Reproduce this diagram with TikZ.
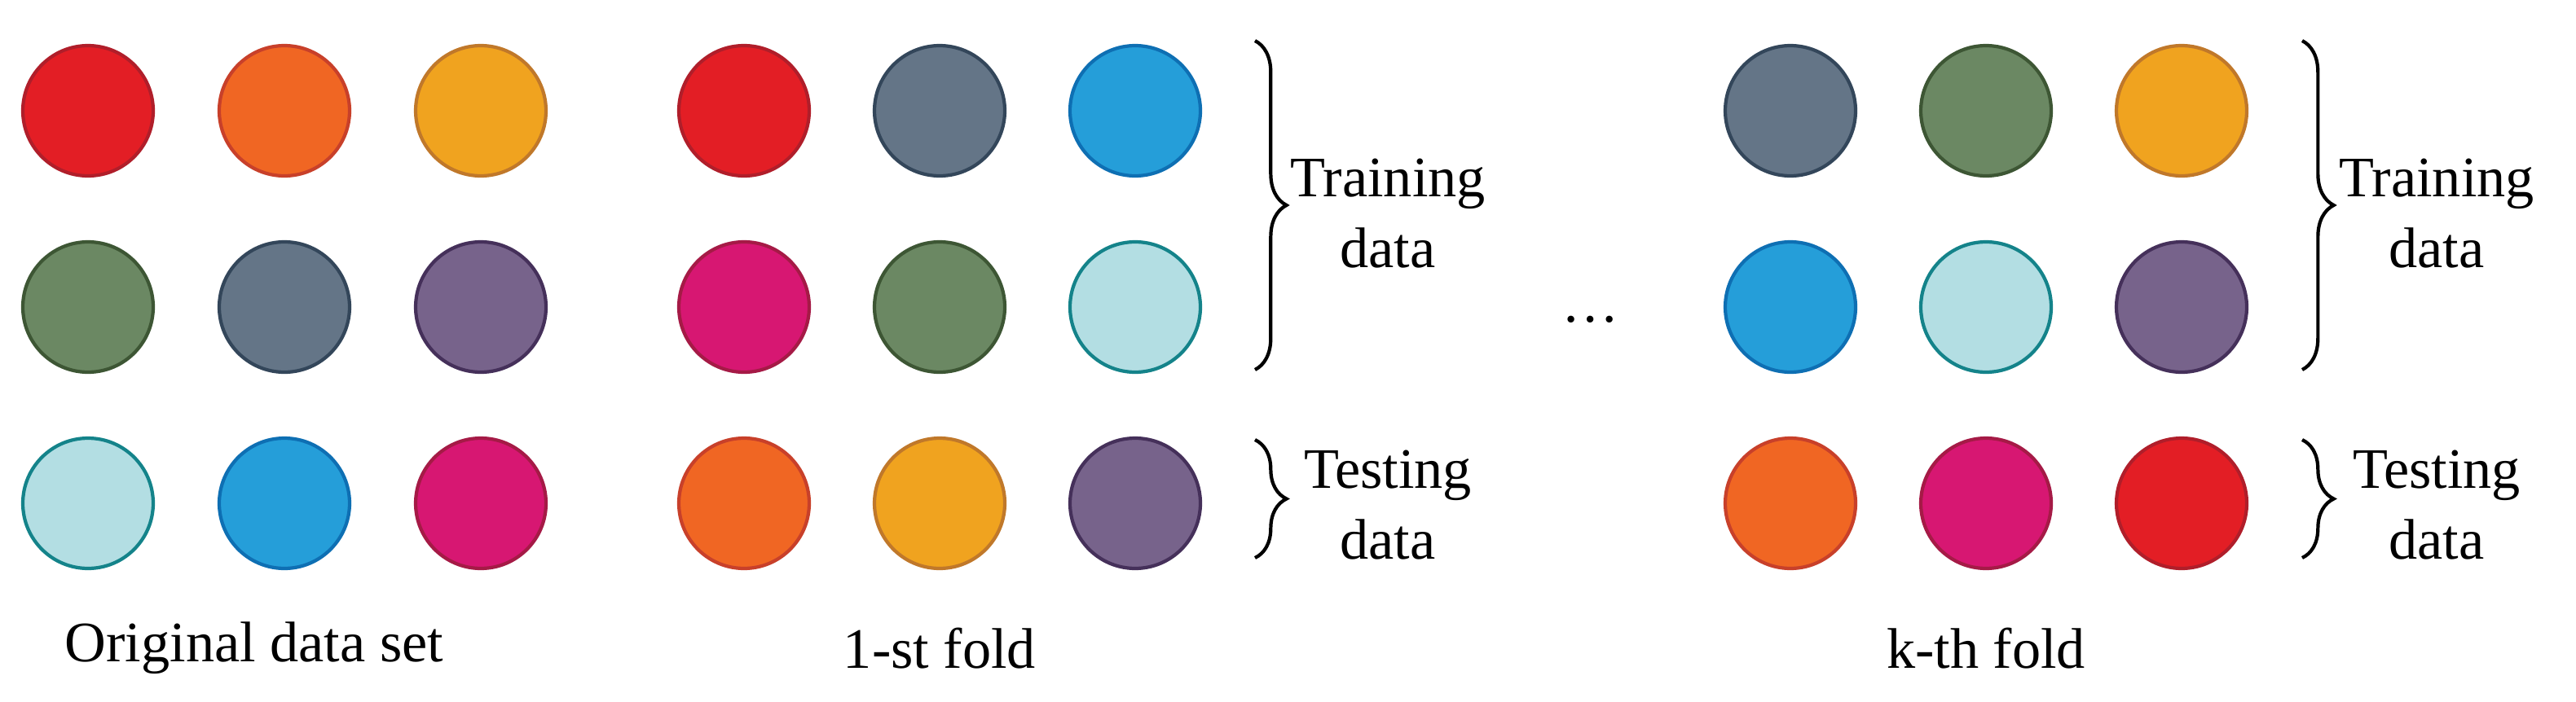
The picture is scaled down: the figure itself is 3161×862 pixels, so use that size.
\documentclass[tikz,border=0pt]{standalone}
\usepackage{fontspec}
\setmainfont{Liberation Serif}
\usetikzlibrary{decorations.pathreplacing}
\definecolor{cRed}{HTML}{E31E25}\definecolor{sRed}{HTML}{B01E2A}
\definecolor{cOra}{HTML}{F06623}\definecolor{sOra}{HTML}{C8402A}
\definecolor{cYel}{HTML}{F0A31F}\definecolor{sYel}{HTML}{C0782A}
\definecolor{cGrn}{HTML}{6B8863}\definecolor{sGrn}{HTML}{3D5634}
\definecolor{cSla}{HTML}{647587}\definecolor{sSla}{HTML}{33465A}
\definecolor{cPur}{HTML}{77638B}\definecolor{sPur}{HTML}{45305A}
\definecolor{cCya}{HTML}{B3DEE3}\definecolor{sCya}{HTML}{14838A}
\definecolor{cBlu}{HTML}{259ED9}\definecolor{sBlu}{HTML}{0E6FB3}
\definecolor{cMag}{HTML}{D71772}\definecolor{sMag}{HTML}{A51A46}
\begin{document}
\begin{tikzpicture}[x=0.02cm,y=-0.02cm,
  ball/.style={circle,minimum size=3.2cm,inner sep=0pt,line width=2.4pt},
  red/.style={ball,fill=cRed,draw=sRed}, ora/.style={ball,fill=cOra,draw=sOra},
  yel/.style={ball,fill=cYel,draw=sYel}, grn/.style={ball,fill=cGrn,draw=sGrn},
  sla/.style={ball,fill=cSla,draw=sSla}, pur/.style={ball,fill=cPur,draw=sPur},
  cya/.style={ball,fill=cCya,draw=sCya}, blu/.style={ball,fill=cBlu,draw=sBlu},
  mag/.style={ball,fill=cMag,draw=sMag},
  lbl/.style={font=\fontsize{40}{48}\selectfont},
  txt/.style={font=\fontsize{40}{50}\selectfont,align=center},
  br/.style={decorate,decoration={brace,amplitude=22pt},line width=2.4pt}]
\useasboundingbox (0,0) rectangle (3161,862);
% original
\node[red] (o11) at (108,136) {}; \node[ora] (o12) at (349,136) {}; \node[yel] (o13) at (590,136) {};
\node[grn] (o21) at (108,377) {}; \node[sla] (o22) at (349,377) {}; \node[pur] (o23) at (590,377) {};
\node[cya] (o31) at (108,618) {}; \node[blu] (o32) at (349,618) {}; \node[mag] (o33) at (590,618) {};
% fold 1
\node[red] (a11) at (913,136) {}; \node[sla] (a12) at (1153,136) {}; \node[blu] (a13) at (1393,136) {};
\node[mag] (a21) at (913,377) {}; \node[grn] (a22) at (1153,377) {}; \node[cya] (a23) at (1393,377) {};
\node[ora] (a31) at (913,618) {}; \node[yel] (a32) at (1153,618) {}; \node[pur] (a33) at (1393,618) {};
% fold k
\node[sla] (b11) at (2197,136) {}; \node[grn] (b12) at (2437,136) {}; \node[yel] (b13) at (2677,136) {};
\node[blu] (b21) at (2197,377) {}; \node[cya] (b22) at (2437,377) {}; \node[pur] (b23) at (2677,377) {};
\node[ora] (b31) at (2197,618) {}; \node[mag] (b32) at (2437,618) {}; \node[red] (b33) at (2677,618) {};
% braces
\coordinate (t1a) at (1540,50); \coordinate (t1b) at (1540,454);
\coordinate (s1a) at (1540,540); \coordinate (s1b) at (1540,685);
\coordinate (t2a) at (2825,50); \coordinate (t2b) at (2825,454);
\coordinate (s2a) at (2825,540); \coordinate (s2b) at (2825,685);
\draw[br] (t1a) -- (t1b); \draw[br] (s1a) -- (s1b);
\draw[br] (t2a) -- (t2b); \draw[br] (s2a) -- (s2b);
\node[txt] (tr1) at (1703,262) {Training\\data};
\node[txt] (te1) at (1703,620) {Testing\\data};
\node[txt] (tr2) at (2990,262) {Training\\data};
\node[txt] (te2) at (2990,620) {Testing\\data};
\node[lbl] (dots) at (1952,392) {\dots};
\node[lbl] (l1) at (312,796) {Original data set};
\node[lbl] (l2) at (1153,796) {1-st fold};
\node[lbl] (l3) at (2437,796) {k-th fold};
\end{tikzpicture}
\end{document}
